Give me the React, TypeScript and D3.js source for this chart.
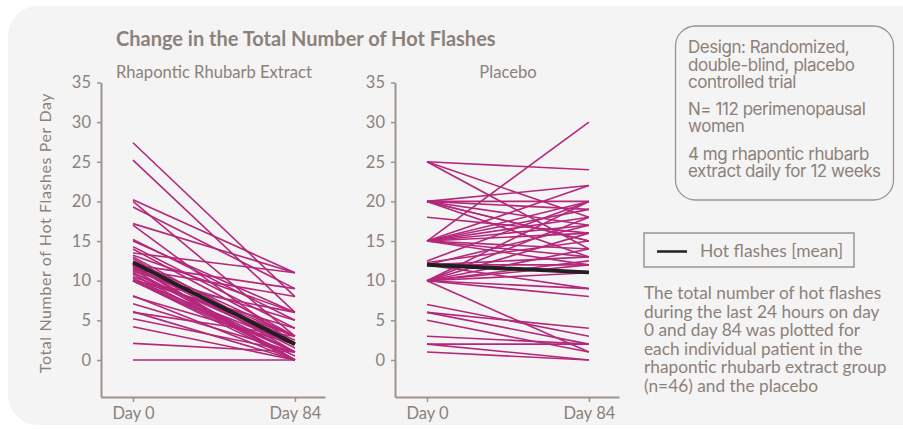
import React, { useEffect, useRef } from "react";
import * as d3 from "d3";

const days = [0, 84];
const dayLabels = ["Day 0", "Day 84"];
const yTicks = [0, 5, 10, 15, 20, 25, 30, 35];

const rhubarbDay0 = [27.4, 25.2, 20.2, 20, 19.3, 17.2, 17, 15.2, 14.3, 13.5, 13.2, 12.8, 12.5, 12.2, 12, 11.9, 11.7, 11.5, 11.4, 11.2, 11, 11, 10.8, 10.5, 10.3, 10.1, 10, 10, 10, 10, 10, 11.5, 12, 15, 8.1, 8, 7.1, 6.1, 6, 5.2, 4.2, 2.1, 0, 14, 13, 11.8];
const rhubarbDay84 = [8, 6, 11, 3, 9, 11, 2, 5, 4, 11, 6, 1, 3, 2, 0, 1.5, 2.5, 3, 0, 5, 1, 2, 0, 3, 1, 4, 0, 2, 1, 6, 0.5, 8, 9, 6, 0, 2, 1, 0, 3, 1, 0, 1, 0, 3, 2, 0];
const rhubarbMean = [12.3, 2.0];

const placeboDay0 = [25, 25, 25, 20, 20, 20, 20, 20, 20, 18, 15, 15, 15, 15, 15, 15, 15, 15, 15, 15, 12.5, 12.3, 12, 12, 12, 10, 10, 10, 10, 10, 10, 10, 10, 10, 7, 6, 6, 5, 3, 2, 1, 2, 12, 10, 20];
const placeboDay84 = [24, 18, 14, 20, 19, 17, 15, 13, 22, 16, 30, 22, 20, 19, 17, 16, 14, 13, 12, 18, 20, 15, 12, 13, 17, 20, 18, 12, 11, 9, 8, 1, 14, 16, 3, 4, 2, 1, 2, 2, 0, 0, 9, 12.5, 15];
const placeboMean = [12, 11.05];

const panelTitles = ["Rhapontic Rhubarb Extract", "Placebo"];
const chartTitle = "Change in the Total Number of Hot Flashes";
const yLabel = "Total Number of Hot Flashes Per Day";
const infoLines = [
  ["Design: Randomized,", "double-blind, placebo", "controlled trial"],
  ["N= 112 perimenopausal", "women"],
  ["4 mg rhapontic rhubarb", "extract daily for 12 weeks"],
];
const legendLabel = "Hot flashes [mean]";
const noteLines = [
  "The total number of hot flashes",
  "during the last 24 hours on day",
  "0 and day 84 was plotted for",
  "each individual patient in the",
  "rhapontic rhubarb extract group",
  "(n=46) and the placebo",
];

const W = 903;
const H = 429;
const TEXT = "#8c8179";
const AXIS = "#9d938c";
const MAG = "#b3287b";
const FONT = "Lato, 'Open Sans', sans-serif";

export default function App() {
  const ref = useRef<SVGSVGElement>(null);

  useEffect(() => {
    const svg = d3.select(ref.current);
    svg.selectAll("*").remove();

    svg.append("rect").attr("width", W).attr("height", H).attr("fill", "#ffffff");
    svg.append("rect")
      .attr("x", 8).attr("y", 6).attr("width", 930).attr("height", 419)
      .attr("rx", 30).attr("fill", "#f4f4f4");

    const y = d3.scaleLinear().domain([-4.67, 35]).range([397, 82.5]);

    const panels = [
      { left: 101, d0: rhubarbDay0, d84: rhubarbDay84, mean: rhubarbMean, title: panelTitles[0] },
      { left: 395, d0: placeboDay0, d84: placeboDay84, mean: placeboMean, title: panelTitles[1] },
    ];

    panels.forEach((p) => {
      const x = d3.scaleLinear().domain([-16.6, 99.6]).range([p.left, p.left + 224]);
      const g = svg.append("g");

      const yAxis = d3.axisLeft(y).tickValues(yTicks).tickSize(4).tickSizeOuter(0).tickPadding(6);
      const ya = g.append("g").attr("transform", `translate(${p.left},0)`).call(yAxis);
      ya.select(".domain").attr("stroke", AXIS).attr("stroke-width", 2);
      ya.selectAll(".tick line").attr("stroke", AXIS).attr("stroke-width", 1.5);
      ya.selectAll(".tick text").attr("fill", TEXT).attr("font-size", 16.5).attr("font-family", FONT);

      const xAxis = d3.axisBottom(x).tickValues(days).tickSize(5).tickSizeOuter(0).tickPadding(5)
        .tickFormat((d, i) => dayLabels[i]);
      const xa = g.append("g").attr("transform", `translate(0,397)`).call(xAxis);
      xa.select(".domain").attr("stroke", AXIS).attr("stroke-width", 2);
      xa.selectAll(".tick line").attr("stroke", AXIS).attr("stroke-width", 1.5);
      xa.selectAll(".tick text").attr("fill", TEXT).attr("font-size", 16.5).attr("font-family", FONT);

      const line = d3.line<[number, number]>().x((d) => x(d[0])).y((d) => y(d[1]));
      const pairs = p.d0.map((v, i) => [[days[0], v], [days[1], p.d84[i]]] as [number, number][]);
      g.append("g").selectAll("path").data(pairs).join("path")
        .attr("d", (d) => line(d))
        .attr("fill", "none").attr("stroke", MAG).attr("stroke-width", 1.6);

      g.append("path")
        .attr("d", line([[days[0], p.mean[0]], [days[1], p.mean[1]]]))
        .attr("fill", "none").attr("stroke", "#231f20").attr("stroke-width", 4);

      g.append("text")
        .attr("x", x(42)).attr("y", 78).attr("text-anchor", "middle")
        .attr("fill", TEXT).attr("font-size", 16.6).attr("font-family", FONT)
        .text(p.title);
    });

    svg.append("text")
      .attr("x", 116).attr("y", 46).attr("fill", TEXT)
      .attr("font-size", 20).attr("font-weight", "bold").attr("font-family", FONT)
      .text(chartTitle);

    svg.append("text")
      .attr("transform", `translate(51,233) rotate(-90)`)
      .attr("text-anchor", "middle").attr("fill", TEXT)
      .attr("font-size", 16).attr("letter-spacing", 0.6).attr("font-family", FONT)
      .text(yLabel);

    // info box
    svg.append("rect")
      .attr("x", 675.5).attr("y", 26).attr("width", 218).attr("height", 174)
      .attr("rx", 20).attr("fill", "none").attr("stroke", AXIS).attr("stroke-width", 1.3);
    const infoY = [[53, 70.5, 87.5], [115, 132], [159.5, 177]];
    infoLines.forEach((grp, gi) => {
      grp.forEach((t, li) => {
        svg.append("text")
          .attr("x", 688).attr("y", infoY[gi][li]).attr("fill", TEXT)
          .attr("font-size", 17).attr("letter-spacing", -0.45).attr("font-family", "Inter, sans-serif")
          .text(t);
      });
    });

    // legend
    svg.append("rect")
      .attr("x", 644).attr("y", 233).attr("width", 210).attr("height", 34)
      .attr("fill", "none").attr("stroke", AXIS).attr("stroke-width", 1.5);
    svg.append("line")
      .attr("x1", 657).attr("x2", 687).attr("y1", 251.5).attr("y2", 251.5)
      .attr("stroke", "#231f20").attr("stroke-width", 2.5);
    svg.append("text")
      .attr("x", 700).attr("y", 256.5).attr("fill", TEXT)
      .attr("font-size", 17.5).attr("font-family", FONT).text(legendLabel);

    noteLines.forEach((t, i) => {
      svg.append("text")
        .attr("x", 644).attr("y", 299 + i * 18.6).attr("fill", TEXT)
        .attr("font-size", 17.3).attr("font-family", FONT).text(t);
    });
  }, []);

  return (
    <svg
      ref={ref}
      width={W}
      height={H}
      style={{ position: "absolute", left: 0, top: 0, display: "block" }}
    />
  );
}
